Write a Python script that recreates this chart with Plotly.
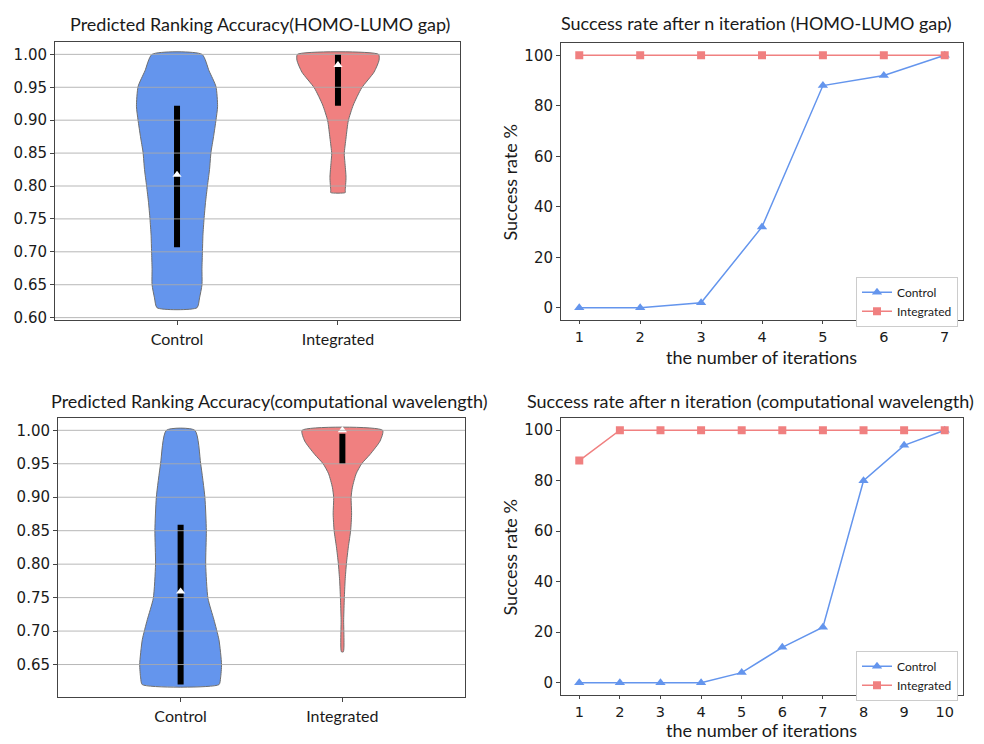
import plotly.graph_objects as go

W, H = 984, 744
BLUE = "#6495ED"
RED = "#F08080"
TXT = "#1a1a1a"
FRAME = "#444444"
NUMFONT = "DejaVu Sans"
TEXTFONT = "Lato"

categories = ["Control", "Integrated"]
cat_pos = [0, 1]

# ---- Violin profiles (value level, half width in category units) ----
# HOMO-LUMO gap
hl_ctrl_levels = [1.000, 0.975, 0.951, 0.921, 0.900, 0.875, 0.851, 0.825, 0.800,
                  0.775, 0.750, 0.725, 0.700, 0.675, 0.650, 0.630, 0.615]
hl_ctrl_hw = [0.155, 0.199, 0.242, 0.252, 0.242, 0.227, 0.211, 0.202, 0.189,
              0.177, 0.168, 0.161, 0.158, 0.155, 0.155, 0.140, 0.124]
hl_int_levels = [1.000, 0.991, 0.973, 0.949, 0.923, 0.899, 0.873, 0.849, 0.836,
                 0.813, 0.793, 0.790]
hl_int_hw = [0.252, 0.255, 0.224, 0.147, 0.095, 0.064, 0.050, 0.039, 0.043,
             0.050, 0.045, 0.045]
hl_q1 = [0.707, 0.922]
hl_q3 = [0.922, 1.000]
hl_mark = [0.817, 0.984]

# computational wavelength
cw_ctrl_levels = [1.000, 0.950, 0.900, 0.850, 0.800, 0.749, 0.717, 0.687, 0.650,
                  0.630, 0.620]
cw_ctrl_hw = [0.088, 0.124, 0.150, 0.159, 0.155, 0.169, 0.206, 0.237, 0.253,
              0.247, 0.237]
cw_int_levels = [1.000, 0.984, 0.964, 0.950, 0.935, 0.915, 0.900, 0.875, 0.850,
                 0.826, 0.801, 0.776, 0.749, 0.717, 0.669]
cw_int_hw = [0.249, 0.233, 0.171, 0.119, 0.085, 0.062, 0.054, 0.057, 0.051,
             0.037, 0.025, 0.017, 0.012, 0.008, 0.006]
cw_q1 = [0.620, 0.950]
cw_q3 = [0.859, 0.995]
cw_mark = [0.759, 1.000]

# ---- Success rate lines ----
hl_iter = [1, 2, 3, 4, 5, 6, 7]
hl_control = [0, 0, 2, 32, 88, 92, 100]
hl_integrated = [100, 100, 100, 100, 100, 100, 100]

cw_iter = [1, 2, 3, 4, 5, 6, 7, 8, 9, 10]
cw_control = [0, 0, 0, 0, 4, 14, 22, 80, 94, 100]
cw_integrated = [88, 100, 100, 100, 100, 100, 100, 100, 100, 100]

hl_yticks = [0.60, 0.65, 0.70, 0.75, 0.80, 0.85, 0.90, 0.95, 1.00]
cw_yticks = [0.65, 0.70, 0.75, 0.80, 0.85, 0.90, 0.95, 1.00]
rate_ticks = [0, 20, 40, 60, 80, 100]

fig = go.Figure()


def violin(center, levels, hw, color, xa, ya):
    xs = [center + w for w in hw] + [center - w for w in reversed(hw)] + [center + hw[0]]
    ys = list(levels) + list(reversed(levels)) + [levels[0]]
    fig.add_trace(go.Scatter(x=xs, y=ys, xaxis=xa, yaxis=ya, mode="lines",
                             fill="toself", fillcolor=color,
                             line=dict(color="#6f6f6f", width=1, shape="spline", smoothing=0.6),
                             showlegend=False, hoverinfo="skip"))


def boxbar(q1, q3, mark, xa, ya):
    for i, c in enumerate(cat_pos):
        fig.add_trace(go.Scatter(x=[c, c], y=[q1[i], q3[i]], xaxis=xa, yaxis=ya,
                                 mode="lines", line=dict(color="black", width=6),
                                 showlegend=False, hoverinfo="skip"))
    fig.add_trace(go.Scatter(x=cat_pos, y=mark, xaxis=xa, yaxis=ya, mode="markers",
                             marker=dict(symbol="triangle-up", size=8, color="white",
                                         line=dict(width=0)),
                             showlegend=False, hoverinfo="skip"))


violin(cat_pos[0], hl_ctrl_levels, hl_ctrl_hw, BLUE, "x", "y")
violin(cat_pos[1], hl_int_levels, hl_int_hw, RED, "x", "y")
boxbar(hl_q1, hl_q3, hl_mark, "x", "y")

violin(cat_pos[0], cw_ctrl_levels, cw_ctrl_hw, BLUE, "x3", "y3")
violin(cat_pos[1], cw_int_levels, cw_int_hw, RED, "x3", "y3")
boxbar(cw_q1, cw_q3, cw_mark, "x3", "y3")

# gridlines drawn over the violins
shapes = []
for v in hl_yticks:
    shapes.append(dict(type="line", xref="x domain", yref="y", x0=0, x1=1, y0=v, y1=v,
                       line=dict(color="rgba(170,170,170,0.85)", width=1), layer="above"))
for v in cw_yticks:
    shapes.append(dict(type="line", xref="x3 domain", yref="y3", x0=0, x1=1, y0=v, y1=v,
                       line=dict(color="rgba(170,170,170,0.85)", width=1), layer="above"))

# success rate lines
fig.add_trace(go.Scatter(x=hl_iter, y=hl_control, xaxis="x2", yaxis="y2", name="Control",
                         mode="lines+markers", line=dict(color=BLUE, width=1.5),
                         marker=dict(symbol="triangle-up", size=9, color=BLUE)))
fig.add_trace(go.Scatter(x=hl_iter, y=hl_integrated, xaxis="x2", yaxis="y2", name="Integrated",
                         mode="lines+markers", line=dict(color=RED, width=1.5),
                         marker=dict(symbol="square", size=8, color=RED)))
fig.add_trace(go.Scatter(x=cw_iter, y=cw_control, xaxis="x4", yaxis="y4", name="Control",
                         legend="legend2",
                         mode="lines+markers", line=dict(color=BLUE, width=1.5),
                         marker=dict(symbol="triangle-up", size=9, color=BLUE)))
fig.add_trace(go.Scatter(x=cw_iter, y=cw_integrated, xaxis="x4", yaxis="y4", name="Integrated",
                         legend="legend2",
                         mode="lines+markers", line=dict(color=RED, width=1.5),
                         marker=dict(symbol="square", size=8, color=RED)))


def px(x0, x1):
    return [x0 / W, x1 / W]


def py(top, bottom):
    return [1 - bottom / H, 1 - top / H]


axis_common = dict(showline=True, mirror=True, linecolor=FRAME, linewidth=1,
                   ticks="outside", ticklen=4, tickcolor=FRAME, zeroline=False,
                   showgrid=False)

cat_axis = dict(axis_common, range=[-0.758, 1.758], tickvals=cat_pos, ticktext=categories,
                tickfont=dict(family=TEXTFONT, size=16, color=TXT))

legend_style = dict(xanchor="right", yanchor="top", bgcolor="white",
                    bordercolor="#cccccc", borderwidth=1,
                    font=dict(family=TEXTFONT, size=12, color=TXT), tracegroupgap=0,
                    itemwidth=30)

fig.update_layout(
    width=W, height=H, margin=dict(l=0, r=0, t=0, b=0),
    paper_bgcolor="white", plot_bgcolor="white",
    shapes=shapes,
    xaxis=dict(cat_axis, domain=px(55, 460), anchor="y"),
    yaxis=dict(axis_common, domain=py(42, 323), anchor="x", range=[0.5958, 1.0193],
               tickvals=hl_yticks, tickformat=".2f",
               tickfont=dict(family=NUMFONT, size=15, color=TXT)),
    xaxis3=dict(cat_axis, domain=px(58, 465), anchor="y3"),
    yaxis3=dict(axis_common, domain=py(421, 703), anchor="x3", range=[0.601, 1.019],
                tickvals=cw_yticks, tickformat=".2f",
                tickfont=dict(family=NUMFONT, size=15, color=TXT)),
    xaxis2=dict(axis_common, domain=px(561, 963), anchor="y2", range=[0.7, 7.3],
                tickvals=hl_iter, ticklen=3,
                tickfont=dict(family=NUMFONT, size=14.5, color=TXT)),
    yaxis2=dict(axis_common, domain=py(43, 323), anchor="x2", range=[-5, 105],
                tickvals=rate_ticks, tickfont=dict(family=NUMFONT, size=15, color=TXT)),
    xaxis4=dict(axis_common, domain=px(561, 963), anchor="y4", range=[0.55, 10.45],
                tickvals=cw_iter, ticklen=3,
                tickfont=dict(family=NUMFONT, size=14.5, color=TXT)),
    yaxis4=dict(axis_common, domain=py(421, 701), anchor="x4", range=[-5, 105],
                tickvals=rate_ticks, tickfont=dict(family=NUMFONT, size=15, color=TXT)),
    legend=dict(legend_style, x=958 / W, y=1 - 279 / H),
    legend2=dict(legend_style, x=958 / W, y=1 - 656 / H),
)

titles = [
    ("Predicted Ranking Accuracy(HOMO-LUMO gap)", 259.5, 24),
    ("Success rate after n iteration (HOMO-LUMO gap)", 756, 23),
    ("Predicted Ranking Accuracy(computational wavelength)", 269.5, 404),
    ("Success rate after n iteration (computational wavelength)", 750, 404),
]
for text, cx, cy in titles:
    fig.add_annotation(text=text, x=cx / W, y=1 - cy / H, xref="paper", yref="paper",
                       xanchor="center", yanchor="middle", showarrow=False,
                       font=dict(family=TEXTFONT, size=18, color=TXT))

for cy in (184, 562):
    fig.add_annotation(text="Success rate %", x=510 / W, y=1 - cy / H, xref="paper",
                       yref="paper", textangle=-90, xanchor="center", yanchor="middle",
                       showarrow=False, font=dict(family=TEXTFONT, size=18, color=TXT))

fig.add_annotation(text="the number of iterations", x=761 / W, y=1 - 348 / H,
                   xref="paper", yref="paper", xanchor="center", yanchor="top",
                   showarrow=False, font=dict(family=TEXTFONT, size=18, color=TXT),
                   borderpad=0)
fig.add_annotation(text="the number of iterations", x=761 / W, y=1 - 748 / H,
                   xref="paper", yref="paper", xanchor="center", yanchor="bottom",
                   showarrow=False, font=dict(family=TEXTFONT, size=18, color=TXT),
                   borderpad=0)

fig.write_html("out.html")
